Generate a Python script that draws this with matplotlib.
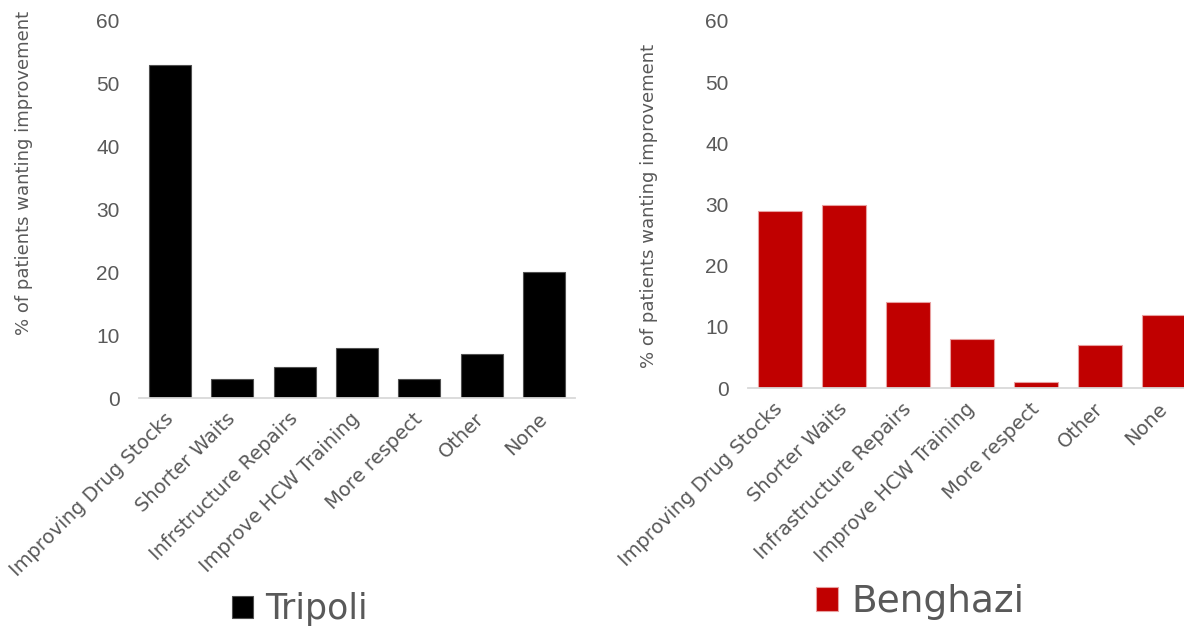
import matplotlib.pyplot as plt

# Survey results: share of patients wanting each improvement, by city
categories_tripoli = ["Improving Drug Stocks", "Shorter Waits", "Infrstructure Repairs",
                      "Improve HCW Training", "More respect", "Other", "None"]
categories_benghazi = ["Improving Drug Stocks", "Shorter Waits", "Infrastructure Repairs",
                       "Improve HCW Training", "More respect", "Other", "None"]
tripoli_values = [53, 3, 5, 8, 3, 7, 20]
benghazi_values = [29, 30, 14, 8, 1, 7, 12]
y_ticks = [0, 10, 20, 30, 40, 50, 60]
y_label = "% of patients wanting improvement"
series_names = ["Tripoli", "Benghazi"]

TEXT_GREY = "#595959"
TEXT_FONT = "DejaVu Sans"
NUM_FONT = "Liberation Sans"

W, H = 1184, 630
fig = plt.figure(figsize=(W / 100, H / 100), dpi=100)

ax1 = fig.add_axes([139 / W, 1 - 398 / H, 436 / W, 377 / H])
ax2 = fig.add_axes([748 / W, 1 - 388 / H, 448 / W, 367 / H])


def draw_panel(ax, cats, vals, color, edge):
    x = list(range(len(cats)))
    bars = ax.bar(x, vals, width=0.675, color=color, edgecolor=edge, linewidth=0.8)
    ax.set_xlim(-0.5, len(cats) - 0.5)
    ax.set_ylim(0, 60)
    ax.set_yticks(y_ticks)
    for side in ("top", "right", "left"):
        ax.spines[side].set_visible(False)
    ax.spines["bottom"].set_color("#d9d9d9")
    ax.spines["bottom"].set_linewidth(1.3)
    ax.tick_params(axis="y", length=0, pad=14, labelsize=15, labelcolor=TEXT_GREY)
    ax.tick_params(axis="x", length=0, pad=13)
    for lab in ax.get_yticklabels():
        lab.set_fontfamily(NUM_FONT)
    ax.set_xticks(x)
    ax.set_xticklabels(cats, rotation=45, ha="right", va="center",
                       rotation_mode="anchor", fontsize=14, color=TEXT_GREY,
                       fontfamily=TEXT_FONT)
    return bars


bars1 = draw_panel(ax1, categories_tripoli, tripoli_values, "#000000", "#505050")
bars2 = draw_panel(ax2, categories_benghazi, benghazi_values, "#c00000", "#e8a0a0")

fig.text(24 / W, 1 - 173 / H, y_label, rotation=90, ha="center", va="center",
         fontsize=13, color=TEXT_GREY, fontfamily=TEXT_FONT)
fig.text(649 / W, 1 - 206 / H, y_label, rotation=90, ha="center", va="center",
         fontsize=13, color=TEXT_GREY, fontfamily=TEXT_FONT)

leg_kw = dict(loc="center", frameon=False, bbox_transform=fig.transFigure,
              handlelength=0.6, handleheight=0.6, handletextpad=0.35,
              borderpad=0, labelcolor=TEXT_GREY)
fig.legend([bars1], [series_names[0]], bbox_to_anchor=(300 / W, 1 - 609 / H),
           prop={"family": TEXT_FONT, "size": 25}, **leg_kw)
fig.legend([bars2], [series_names[1]], bbox_to_anchor=(920 / W, 1 - 602 / H),
           prop={"family": TEXT_FONT, "size": 27}, **leg_kw)

fig.savefig("out.png", dpi=100, facecolor="white")
